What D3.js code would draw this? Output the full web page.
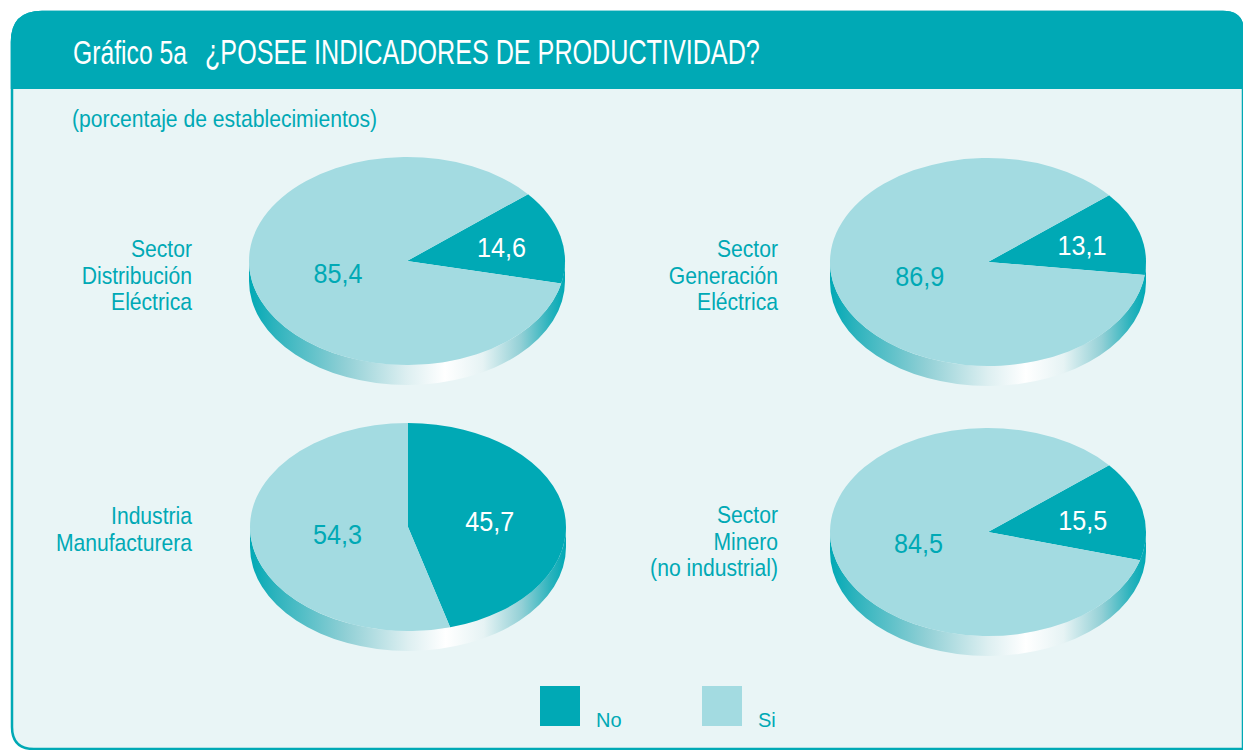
<!DOCTYPE html>
<html>
<head>
<meta charset="utf-8">
<script src="https://cdn.jsdelivr.net/npm/d3@7"></script>
<style>
  body { margin: 0; background: #ffffff; }
  svg { display: block; }
</style>
</head>
<body>
<div id="chart"></div>
<script>
// data
const SERIES = ["No", "Si"];
const SECTORS = [
  ["Sector", "Distribución", "Eléctrica"],
  ["Sector", "Generación", "Eléctrica"],
  ["Industria", "Manufacturera"],
  ["Sector", "Minero", "(no industrial)"]
];
const NO_VALUES = [14.6, 13.1, 45.7, 15.5];
const SI_VALUES = [85.4, 86.9, 54.3, 84.5];

// layout
const WIDTH = 1243, HEIGHT = 750;
const DARK = "#00a9b5", LIGHT = "#a3dbe1", BG = "#e9f5f6";
const FONT = "'Liberation Sans',Arial,Helvetica,sans-serif";
const SQUEEZE = 0.88;
const PIE_CX = [407, 988, 408, 988];
const PIE_CY = [261, 262, 527, 532];
const START_DEG = [50, 50, 0, 50];
const LABEL_RIGHT = [192, 778, 192, 778];
const LABEL_TOP = [257, 257, 524, 523];
const RX = 158, RY = 104, DEPTH = 20;

const svg = d3.select("#chart")
  .append("svg")
  .attr("width", WIDTH)
  .attr("height", HEIGHT);

// condensed looking text: scale x only
function narrowText(x, y, size, anchor, sx) {
  return svg.append("text")
    .attr("transform", `translate(${x},${y}) scale(${sx || SQUEEZE},1)`)
    .attr("text-anchor", anchor || "start")
    .attr("font-family", FONT)
    .attr("font-size", size);
}

// text squeezed to a given width
function fitText(x, y, size, width, str) {
  const t = svg.append("text")
    .attr("font-family", FONT)
    .attr("font-size", size)
    .text(str);
  const len = t.node().getComputedTextLength();
  return t.attr("transform", `translate(${x},${y}) scale(${width / len},1)`);
}

const defs = svg.append("defs");
const grad = defs.append("linearGradient")
  .attr("id", "side")
  .attr("x1", 0).attr("x2", 1).attr("y1", 0).attr("y2", 0);
[[0, "#00a9b5"], [0.08, "#2db3bd"], [0.3, "#8fcfd5"], [0.5, "#ddeff1"], [0.62, "#ffffff"],
 [0.74, "#e6f3f4"], [0.86, "#93d0d6"], [0.95, "#2cb3bd"], [1, "#00a9b5"]]
  .forEach(s => grad.append("stop").attr("offset", s[0]).attr("stop-color", s[1]));

// frame
const X0 = 12, Y0 = 12, X1 = 1243, Y1 = 749, HB = 89;
svg.append("path")
  .attr("d", `M${X0},${Y0 + 30} Q${X0},${Y0} ${X0 + 30},${Y0} L${X1 - 20},${Y0} Q${X1},${Y0} ${X1},${Y0 + 20}
    L${X1},${Y1} L${X0 + 22},${Y1} Q${X0},${Y1} ${X0},${Y1 - 22} Z`)
  .attr("fill", BG)
  .attr("stroke", DARK)
  .attr("stroke-width", 2.5);
svg.append("path")
  .attr("d", `M${X0 - 1.25},${Y0 + 30} Q${X0 - 1.25},${Y0 - 1.25} ${X0 + 30},${Y0 - 1.25} L${X1 - 20},${Y0 - 1.25}
    Q${X1 + 1},${Y0 - 1.25} ${X1 + 1},${Y0 + 20} L${X1 + 1},${HB} L${X0 - 1.25},${HB} Z`)
  .attr("fill", DARK);

fitText(73, 64, 33, 114, "Gráfico 5a").attr("fill", "#ffffff");
fitText(205, 64, 35, 555, "¿POSEE INDICADORES DE PRODUCTIVIDAD?").attr("fill", "#ffffff");

narrowText(72, 127, 24)
  .attr("fill", DARK)
  .text("(porcentaje de establecimientos)");

const fmt = d3.formatLocale({decimal: ",", thousands: ".", grouping: [3], currency: ["", ""]}).format(".1f");
const color = d3.scaleOrdinal().domain(SERIES).range([DARK, LIGHT]);
const arc = d3.arc().innerRadius(0).outerRadius(RX);

SECTORS.forEach((lines, i) => {
  const cx = PIE_CX[i], cy = PIE_CY[i];
  const rows = SERIES.map((s, j) => ({key: s, value: j === 0 ? NO_VALUES[i] : SI_VALUES[i]}));
  const start = START_DEG[i] * Math.PI / 180;
  const pie = d3.pie().value(d => d.value).sort(null)
    .startAngle(start).endAngle(start + 2 * Math.PI);
  const arcs = pie(rows);

  // side of the disc
  svg.append("path")
    .attr("d", `M${cx - RX},${cy} L${cx - RX},${cy + DEPTH} A${RX},${RY} 0 0 0 ${cx + RX},${cy + DEPTH}
      L${cx + RX},${cy} A${RX},${RY} 0 0 1 ${cx - RX},${cy} Z`)
    .attr("fill", "url(#side)");

  // top face
  svg.append("g")
    .attr("transform", `translate(${cx},${cy}) scale(1,${RY / RX})`)
    .selectAll("path")
    .data(arcs)
    .enter().append("path")
    .attr("d", arc)
    .attr("fill", d => color(d.data.key));

  // values
  arcs.forEach(d => {
    const k = d.data.key === "No" ? 0.66 - 0.3 * d.data.value / 100 : 0.45;
    const [x, y] = d3.arc().innerRadius(RX * k).outerRadius(RX * k).centroid(d);
    narrowText(cx + x, cy + y * RY / RX + 11, 28, "middle", 0.9)
      .attr("fill", d.data.key === "No" ? "#ffffff" : DARK)
      .text(fmt(d.data.value));
  });

  // sector label
  lines.forEach((ln, j) => {
    narrowText(LABEL_RIGHT[i], LABEL_TOP[i] + j * 26.5, 24, "end")
      .attr("fill", DARK)
      .text(ln);
  });
});

// legend
const LEG_X = [540, 702];
const legend = svg.selectAll(".legend")
  .data(SERIES)
  .enter().append("g")
  .attr("class", "legend")
  .attr("transform", (d, i) => `translate(${LEG_X[i]},686)`);
legend.append("rect")
  .attr("width", 40).attr("height", 40)
  .attr("fill", d => color(d));
legend.append("text")
  .attr("x", 56).attr("y", 41)
  .attr("font-family", FONT).attr("font-size", 20)
  .attr("fill", DARK)
  .text(d => d);
</script>
</body>
</html>
